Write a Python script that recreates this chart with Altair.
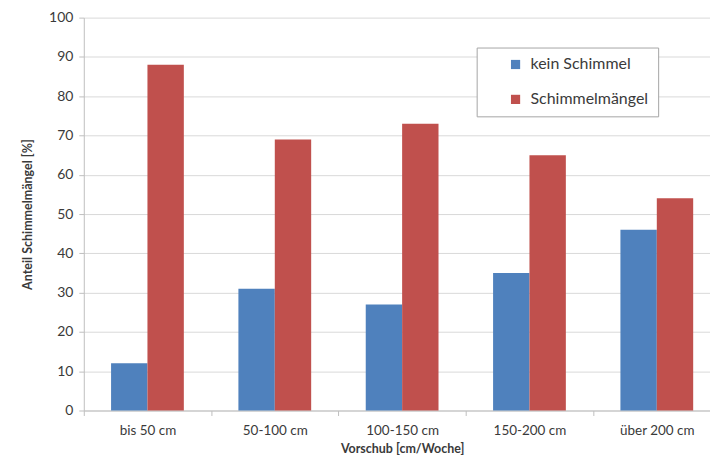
import altair as alt
import pandas as pd

categories = ["bis 50 cm", "50-100 cm", "100-150 cm", "150-200 cm", "über 200 cm"]
kein_schimmel = [12, 31, 27, 35, 46]
schimmelmaengel = [88, 69, 73, 65, 54]
series = ["kein Schimmel", "Schimmelmängel"]

rows = []
for c, a, b in zip(categories, kein_schimmel, schimmelmaengel):
    rows.append({"Kategorie": c, "Serie": series[0], "Wert": a})
    rows.append({"Kategorie": c, "Serie": series[1], "Wert": b})
df = pd.DataFrame(rows)

FONT = "Lato"
TXT = "#3a3a3a"

chart = alt.Chart(df).mark_bar().encode(
    x=alt.X("Kategorie:N", sort=categories,
            scale=alt.Scale(paddingInner=0, paddingOuter=0, range=[0, 638.5]),
            axis=alt.Axis(title="Vorschub [cm/Woche]", labelAngle=0, tickBand="extent",
                          domainColor="#bfbfbf", tickColor="#bfbfbf", tickSize=5,
                          labelFontSize=13.5, labelColor=TXT, labelPadding=8,
                          titleFontSize=12.5, titleFontWeight="bold", titleColor=TXT,
                          titlePadding=6, labelFont=FONT, titleFont=FONT)),
    xOffset=alt.XOffset("Serie:N", sort=series,
                        scale=alt.Scale(paddingInner=0, paddingOuter=0.75)),
    y=alt.Y("Wert:Q", scale=alt.Scale(domain=[0, 100]),
            axis=alt.Axis(title="Anteil Schimmelmängel [%]", values=list(range(0, 101, 10)),
                          domainColor="#bfbfbf", tickColor="#bfbfbf", tickSize=5,
                          gridColor="#d9d9d9", labelFontSize=14, labelColor=TXT,
                          labelPadding=6, titleFontSize=12.5, titleFontWeight="bold",
                          titleColor=TXT, titlePadding=14,
                          labelFont=FONT, titleFont=FONT)),
    color=alt.Color("Serie:N", sort=series,
                    scale=alt.Scale(domain=series, range=["#4F81BD", "#C0504D"]),
                    legend=alt.Legend(title=None, orient="none", legendX=394, legendY=30,
                                      symbolType="square", symbolSize=85,
                                      symbolStrokeWidth=0, symbolOffset=22,
                                      labelOffset=7,
                                      labelFontSize=16, labelFont=FONT, labelColor=TXT,
                                      rowPadding=19, padding=9,
                                      fillColor="white", strokeColor="#a6a6a6",
                                      labelLimit=300)),
).properties(
    width=628, height=394,
    autosize=alt.AutoSizeParams(type="none"),
    padding={"left": 76, "top": 9, "right": 0, "bottom": 52},
).configure_view(stroke=None)

chart.save("out.html", embed_options={"renderer": "svg", "actions": False})
